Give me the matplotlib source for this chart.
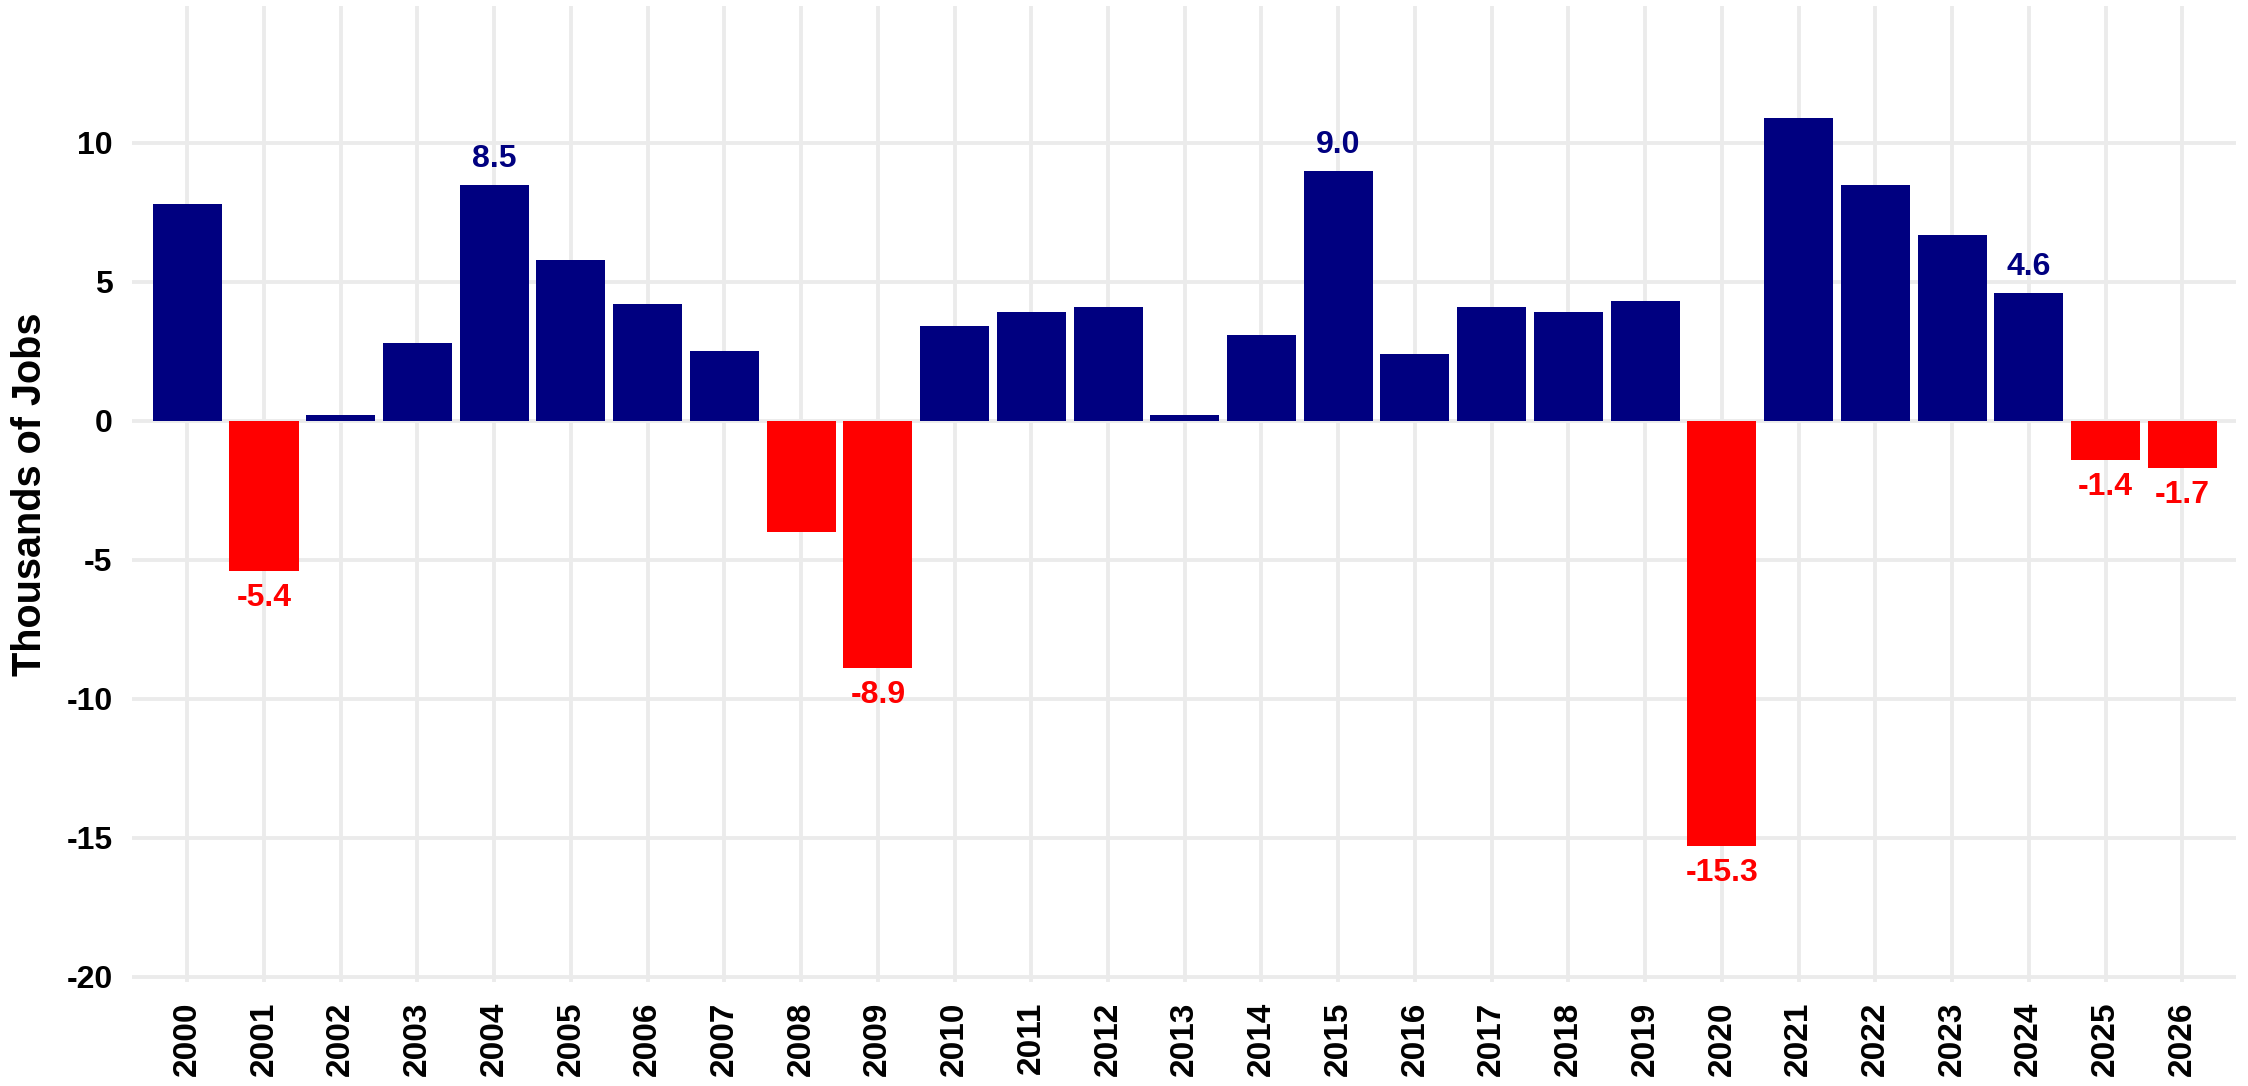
import matplotlib
matplotlib.use("Agg")
import matplotlib.pyplot as plt

years = list(range(2000, 2027))
values = [7.8, -5.4, 0.2, 2.8, 8.5, 5.8, 4.2, 2.5, -4.0, -8.9, 3.4, 3.9, 4.1, 0.2,
          3.1, 9.0, 2.4, 4.1, 3.9, 4.3, -15.3, 10.9, 8.5, 6.7, 4.6, -1.4, -1.7]
labeled_years = [2001, 2004, 2009, 2015, 2020, 2024, 2025, 2026]
y_ticks = [-20, -15, -10, -5, 0, 5, 10]
y_tick_labels = ["-20", "-15", "-10", "-5", "0", "5", "10"]
y_title = "Thousands of Jobs"

POS = "#000080"
NEG = "#FF0000"
GRID = "#EBEBEB"

plt.rcParams['font.family'] = ['Liberation Sans', 'DejaVu Sans']

fig = plt.figure(figsize=(22.48, 10.86), dpi=100)
ax = fig.add_axes([132/2248, 1 - 982/1086, (2236-132)/2248, (982-5.5)/1086])

x = list(range(len(years)))
colors = [POS if v >= 0 else NEG for v in values]
ax.bar(x, values, width=0.9, color=colors, zorder=2, linewidth=0)

for xi, yr, v in zip(x, years, values):
    if yr in labeled_years:
        c = POS if v >= 0 else NEG
        off = 13 if v >= 0 else -25.2
        ax.annotate(f"{v:.1f}", (xi, v), xytext=(0, off), textcoords="offset points",
                    ha="center", va="baseline", color=c, fontsize=23, fontweight="bold",
                    zorder=3)

ax.set_xlim(-0.72, len(years) - 1 + 0.70)
ax.set_ylim(-20.18, 14.94)
ax.set_xticks(x)
ax.set_xticklabels([str(y) for y in years], rotation=90, fontsize=24, fontweight="bold")
ax.set_yticks(y_ticks)
ax.set_yticklabels(y_tick_labels, fontsize=23, fontweight="bold")
ax.tick_params(axis="both", length=0)
ax.tick_params(axis="x", pad=14)
ax.tick_params(axis="y", pad=14)

ax.grid(True, color=GRID, linewidth=2.8, zorder=0)
ax.set_axisbelow(True)
for s in ax.spines.values():
    s.set_visible(False)

ax.set_ylabel(y_title, fontsize=28.5, fontweight="bold")
ax.yaxis.set_label_coords((30 - 132) / (2236 - 132), 0.5)
ax.yaxis.label.set_verticalalignment("center")
ax.yaxis.label.set_horizontalalignment("center")

fig.savefig("out.png", dpi=100, facecolor="white")
